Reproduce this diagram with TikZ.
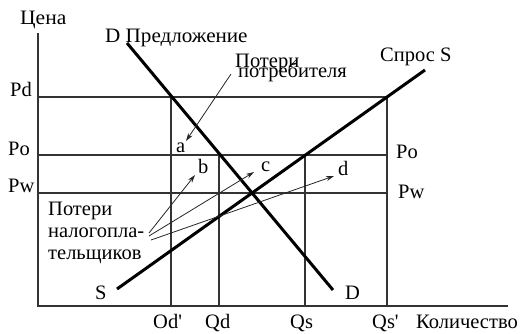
\documentclass[tikz,border=0pt]{standalone}
\usepackage{fontspec}
\setmainfont{Liberation Serif}
\usetikzlibrary{arrows.meta}
\newcommand{\wid}[2]{\scalebox{#1}[1]{#2}}
\begin{document}
\begin{tikzpicture}[x=1pt,y=-1pt,
  thinline/.style={line width=1.2pt, draw=black!80},
  curve/.style={line width=3pt, draw=black},
  lab/.style={font=\fontsize{20.5}{22}\selectfont, inner sep=0pt, anchor=base west},
  ptr/.style={line width=0.8pt, draw=black!85, -{Stealth[length=8pt,width=5pt]}}]
\useasboundingbox (0,0) rectangle (526,333);
% axes
\coordinate (O) at (38,306);
\coordinate (Ytop) at (38,33);
\coordinate (Xend) at (508,306);
\draw[thinline] (Ytop) -- (O) -- (Xend);
% horizontal price lines
\coordinate (pdL) at (38,97);  \coordinate (pdR) at (387,97);
\coordinate (poL) at (38,155); \coordinate (poR) at (387,155);
\coordinate (pwL) at (38,193); \coordinate (pwR) at (387,193);
\draw[thinline] (pdL) -- (pdR);
\draw[thinline] (poL) -- (poR);
\draw[thinline] (pwL) -- (pwR);
% vertical quantity lines
\coordinate (odT) at (171,97);  \coordinate (odB) at (171,306);
\coordinate (qdT) at (219,155); \coordinate (qdB) at (219,306);
\coordinate (qsT) at (305,155); \coordinate (qsB) at (305,306);
\coordinate (qspT) at (387,97); \coordinate (qspB) at (387,306);
\draw[thinline] (odT) -- (odB);
\draw[thinline] (qdT) -- (qdB);
\draw[thinline] (qsT) -- (qsB);
\draw[thinline] (qspT) -- (qspB);
% curves
\coordinate (dA) at (127,43);  \coordinate (dB) at (333,290);
\coordinate (sA) at (117,289); \coordinate (sB) at (425,70);
\draw[curve] (dA) -- (dB);
\draw[curve] (sA) -- (sB);
% labels
\node[lab] (cena) at (20,24) {\wid{1.05}{Цена}};
\node[lab] (pred) at (105,42) {\wid{1.03}{D Предложение}};
\node[lab] (spros) at (380,61) {Спрос S};
\node[lab] (pp1) at (235,67) {Потери};
\node[lab] (pp2) at (238,77) {потребителя};
\node[lab] (pd) at (10,96) {Pd};
\node[lab] (po) at (8,155) {Po};
\node[lab] (pw) at (8,192) {Pw};
\node[lab] (poR2) at (396,158) {Po};
\node[lab] (pwR2) at (398,198) {Pw};
\node[lab] (la) at (176,152) {a};
\node[lab] (lb) at (198,173) {b};
\node[lab] (lc) at (261,171) {c};
\node[lab] (ld) at (338,175) {d};
\node[lab] (tx1) at (48,215) {Потери};
\node[lab] (tx2) at (48,237) {налогопла-};
\node[lab] (tx3) at (48,259) {тельщиков};
\node[lab] (ls) at (95,299) {S};
\node[lab] (ld2) at (345,299) {D};
\node[lab] (qodp) at (153,328) {Od\textquotesingle};
\node[lab] (qqd) at (205,328) {Qd};
\node[lab] (qqs) at (290,328) {Qs};
\node[lab] (qqsp) at (372,328) {Qs\textquotesingle};
\node[lab] (kol) at (416,328) {Количество};
% pointer arrows
\coordinate (cA) at (231,74);  \coordinate (cB) at (186,141);
\coordinate (bA) at (149,233); \coordinate (bB) at (195,175);
\coordinate (ccA) at (149,236); \coordinate (ccB) at (254,172);
\coordinate (ddA) at (151,240); \coordinate (ddB) at (334,176);
\draw[ptr] (cA) -- (cB);
\draw[ptr] (bA) -- (bB);
\draw[ptr] (ccA) -- (ccB);
\draw[ptr] (ddA) -- (ddB);
\end{tikzpicture}
\end{document}
